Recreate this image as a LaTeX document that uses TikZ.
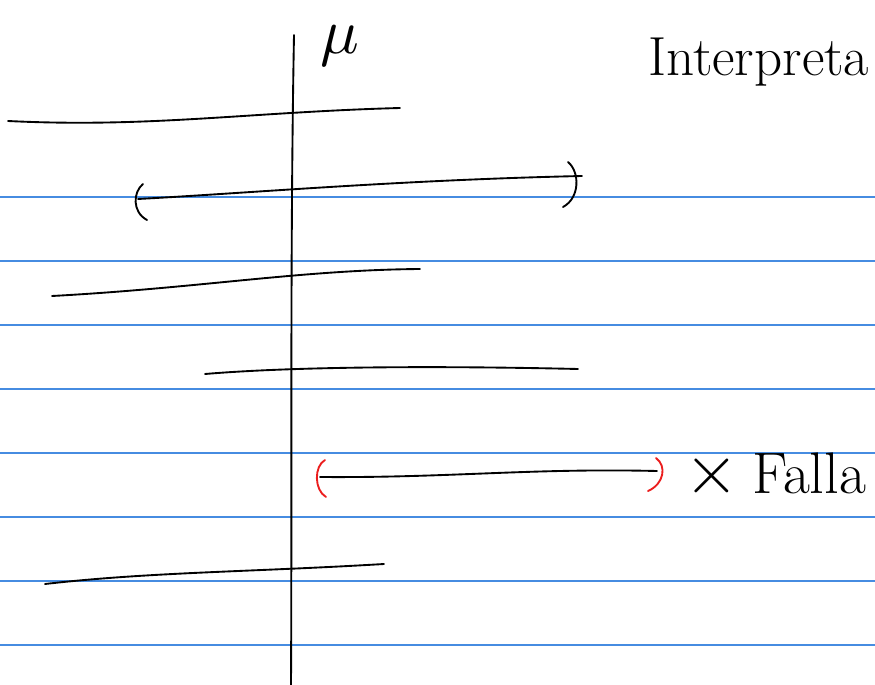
\documentclass[tikz,border=0pt]{standalone}
\usetikzlibrary{calc}
\definecolor{ruleblue}{RGB}{70,140,225}
\definecolor{penred}{RGB}{235,30,30}
\tikzset{
  ink/.style={line width=1.6pt,line cap=round,black},
  ruling/.style={line width=1pt,draw=ruleblue},
  paren/.style={line width=1.6pt,line cap=round},
  hand/.style={inner sep=0pt,anchor=base west}
}

\begin{document}
\begin{tikzpicture}[x=.03cm,y=-.03cm]
\useasboundingbox (0,0) rectangle (875,685);
% ruled paper
\foreach \y in {197,261,325,389,453,517,581,645}{\draw[ruling] (0,\y)--(875,\y);}
% axis
\draw[ink] (294,35) .. controls (290,250) and (292,500) .. (291,685);
\node[inner sep=0pt] (mu) at (340,46){\scalebox{5.5}{$\mu$}};
% heading
\node[hand,font=\fontsize{47}{54}\selectfont] (head) at (648,76){Interpreta};
% intervals
\draw[ink] (8,121) .. controls (150,128) and (250,112) .. (400,108);
\draw[ink] (138,199) .. controls (250,193) and (400,180) .. (582,176);
\draw[paren] (143,184) .. controls (133,192) and (132,212) .. (147,220);
\draw[paren] (568,162) .. controls (580,172) and (580,198) .. (563,207);
\draw[ink] (52,296) .. controls (200,288) and (300,270) .. (420,269);
\draw[ink] (205,374) .. controls (300,366) and (450,366) .. (578,369);
\draw[ink] (320,477) .. controls (450,478) and (530,468) .. (657,471);
\draw[paren,penred] (325,460) .. controls (314,466) and (314,490) .. (326,497);
\draw[paren,penred] (656,458) .. controls (667,466) and (664,484) .. (648,491);
\draw[ink] (45,584) .. controls (150,572) and (250,572) .. (384,564);
% note
\node[inner sep=0pt] (cross) at (712,476){\scalebox{6}{$\times$}};
\node[hand,font=\fontsize{50}{58}\selectfont] (fail) at (752,493){Falla};
\end{tikzpicture}
\end{document}
